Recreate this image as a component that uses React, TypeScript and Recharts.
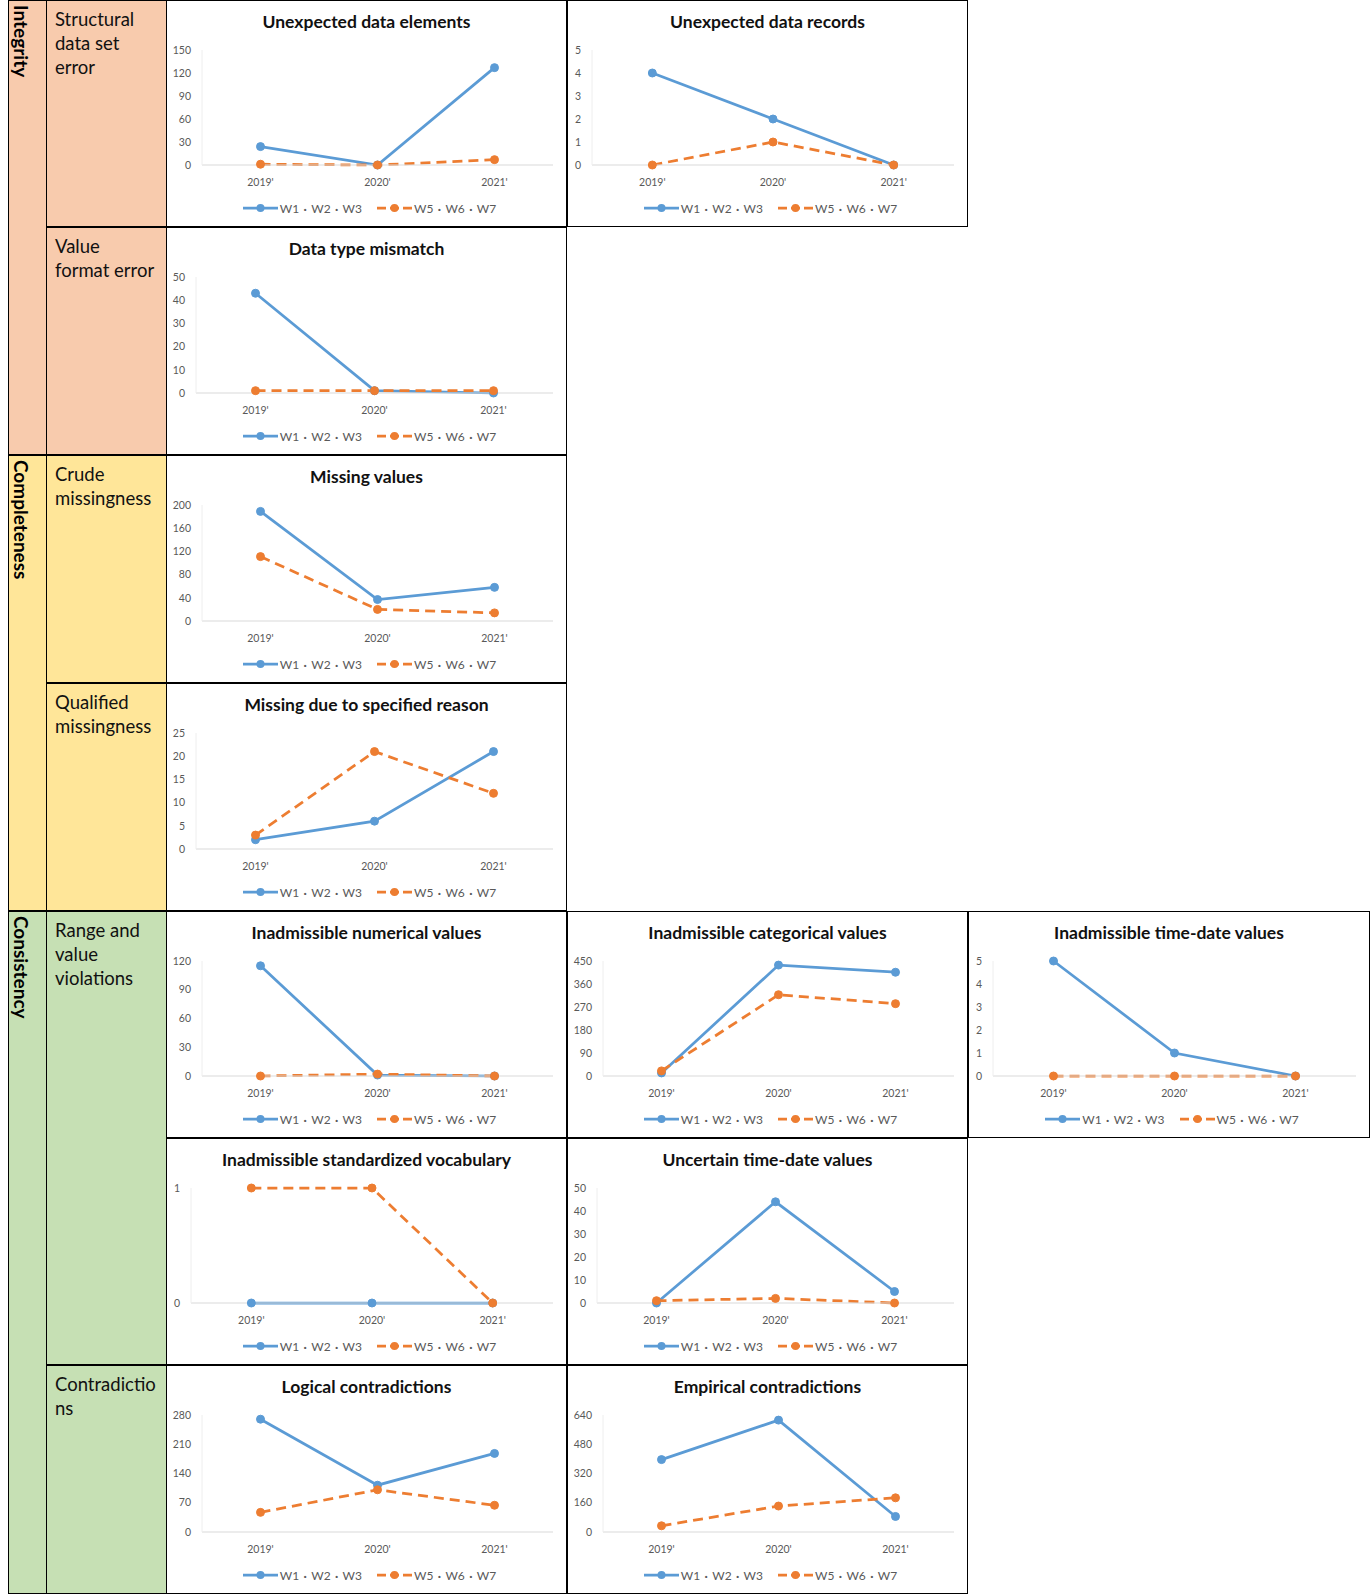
import React from 'react';
import { LineChart, Line, XAxis, YAxis, Legend } from 'recharts';

const years = ["2019'", "2020'", "2021'"];
const seriesNames = ['W1・W2・W3', 'W5・W6・W7'];

const elementsW1 = [24, 0, 127];
const elementsW5 = [1, 0, 7];
const elementsTicks = [0, 30, 60, 90, 120, 150];

const recordsW1 = [4, 2, 0];
const recordsW5 = [0, 1, 0];
const recordsTicks = [0, 1, 2, 3, 4, 5];

const mismatchW1 = [43, 1, 0];
const mismatchW5 = [1, 1, 1];
const mismatchTicks = [0, 10, 20, 30, 40, 50];

const missingW1 = [189, 37, 58];
const missingW5 = [111, 20, 14];
const missingTicks = [0, 40, 80, 120, 160, 200];

const reasonW1 = [2, 6, 21];
const reasonW5 = [3, 21, 12];
const reasonTicks = [0, 5, 10, 15, 20, 25];

const numericalW1 = [115, 1, 0];
const numericalW5 = [0, 2, 0];
const numericalTicks = [0, 30, 60, 90, 120];

const categoricalW1 = [12, 434, 406];
const categoricalW5 = [20, 318, 283];
const categoricalTicks = [0, 90, 180, 270, 360, 450];

const timeDateW1 = [5, 1, 0];
const timeDateW5 = [0, 0, 0];
const timeDateTicks = [0, 1, 2, 3, 4, 5];

const vocabW1 = [0, 0, 0];
const vocabW5 = [1, 1, 0];
const vocabTicks = [0, 1];

const uncertainW1 = [0, 44, 5];
const uncertainW5 = [1, 2, 0];
const uncertainTicks = [0, 10, 20, 30, 40, 50];

const logicalW1 = [270, 112, 188];
const logicalW5 = [47, 101, 64];
const logicalTicks = [0, 70, 140, 210, 280];

const empiricalW1 = [396, 612, 85];
const empiricalW5 = [34, 142, 187];
const empiricalTicks = [0, 160, 320, 480, 640];

// table grid
const rowEdges = [0, 227, 455, 683, 911, 1138, 1365, 1594];
const colEdges = [166, 567, 968, 1370];

const panels = [
  { title: 'Unexpected data elements', w1: elementsW1, w5: elementsW5, ticks: elementsTicks, row: 0, col: 0 },
  { title: 'Unexpected data records', w1: recordsW1, w5: recordsW5, ticks: recordsTicks, row: 0, col: 1 },
  { title: 'Data type mismatch', w1: mismatchW1, w5: mismatchW5, ticks: mismatchTicks, row: 1, col: 0 },
  { title: 'Missing values', w1: missingW1, w5: missingW5, ticks: missingTicks, row: 2, col: 0 },
  { title: 'Missing due to specified reason', w1: reasonW1, w5: reasonW5, ticks: reasonTicks, row: 3, col: 0 },
  { title: 'Inadmissible numerical values', w1: numericalW1, w5: numericalW5, ticks: numericalTicks, row: 4, col: 0 },
  { title: 'Inadmissible categorical values', w1: categoricalW1, w5: categoricalW5, ticks: categoricalTicks, row: 4, col: 1 },
  { title: 'Inadmissible time-date values', w1: timeDateW1, w5: timeDateW5, ticks: timeDateTicks, row: 4, col: 2 },
  { title: 'Inadmissible standardized vocabulary', w1: vocabW1, w5: vocabW5, ticks: vocabTicks, row: 5, col: 0 },
  { title: 'Uncertain time-date values', w1: uncertainW1, w5: uncertainW5, ticks: uncertainTicks, row: 5, col: 1 },
  { title: 'Logical contradictions', w1: logicalW1, w5: logicalW5, ticks: logicalTicks, row: 6, col: 0 },
  { title: 'Empirical contradictions', w1: empiricalW1, w5: empiricalW5, ticks: empiricalTicks, row: 6, col: 1 },
];

const dimensions = [
  { label: 'Integrity', from: 0, to: 2, fill: '#F8CBAD' },
  { label: 'Completeness', from: 2, to: 4, fill: '#FFE699' },
  { label: 'Consistency', from: 4, to: 7, fill: '#C6E0B4' },
];

const subDimensions = [
  { lines: ['Structural', 'data set', 'error'], from: 0, to: 1, fill: '#F8CBAD' },
  { lines: ['Value', 'format error'], from: 1, to: 2, fill: '#F8CBAD' },
  { lines: ['Crude', 'missingness'], from: 2, to: 3, fill: '#FFE699' },
  { lines: ['Qualified', 'missingness'], from: 3, to: 4, fill: '#FFE699' },
  { lines: ['Range and', 'value', 'violations'], from: 4, to: 6, fill: '#C6E0B4' },
  { lines: ['Contradictio', 'ns'], from: 6, to: 7, fill: '#C6E0B4' },
];

const BLUE = '#5B9BD5';
const ORANGE = '#ED7D31';
const FONT = 'Lato, "Noto Sans CJK KR", sans-serif';

const renderLegend = (props: any) => {
  const payload = props.payload || [];
  return (
    <div style={{ display: 'flex', justifyContent: 'center', alignItems: 'center', height: 20, gap: 15, fontSize: 12, color: '#595959', fontFamily: FONT }}>
      {payload.map((entry: any) => {
        const dashed = entry.payload && entry.payload.strokeDasharray;
        const parts = String(entry.value).split('・');
        return (
          <div key={entry.value} style={{ display: 'flex', alignItems: 'center' }}>
            <svg width={35} height={10}>
              <line x1={0} y1={5} x2={35} y2={5} stroke={entry.color} strokeWidth={2.75} strokeDasharray={dashed ? '9 4' : undefined} />
              <circle cx={17.5} cy={5} r={4} fill={entry.color} />
            </svg>
            <span style={{ marginLeft: 2, whiteSpace: 'nowrap' }}>
              {parts.map((part, i) => (
                <React.Fragment key={part}>
                  {i > 0 && <span style={{ display: 'inline-block', width: 12, textAlign: 'center', fontWeight: 700 }}>·</span>}
                  {part}
                </React.Fragment>
              ))}
            </span>
          </div>
        );
      })}
    </div>
  );
};

function Panel({ p }: any) {
  const data = years.map((year, i) => ({ year, w1: p.w1[i], w5: p.w5[i] }));
  const top = rowEdges[p.row];
  const h = rowEdges[p.row + 1] - top;
  const left = colEdges[p.col];
  const w = colEdges[p.col + 1] - left;
  const digits = String(p.ticks[p.ticks.length - 1]).length;
  const yWidth = [0, 24, 29, 35][digits];
  const marginRight = 13;
  const plotW = w - 2 - marginRight - yWidth;
  const pad = plotW / 6;
  const tick = { fontSize: 10.5, fill: '#595959', fontFamily: FONT };
  return (
    <div style={{ position: 'absolute', left, top, width: w, height: h, boxSizing: 'border-box', border: '1px solid #000', background: '#fff' }}>
      <div style={{ position: 'absolute', top: 11, left: 0, right: 0, textAlign: 'center', fontWeight: 700, fontSize: 17.5, lineHeight: '20px', color: '#111' }}>
        {p.title}
      </div>
      <LineChart width={w - 2} height={h - 2} data={data} margin={{ top: 49, right: marginRight, bottom: 11, left: 0 }}>
        <XAxis
          dataKey="year"
          interval={0}
          padding={{ left: pad, right: pad }}
          height={30}
          tickLine={false}
          tickSize={0}
          tickMargin={14}
          axisLine={{ stroke: '#d9d9d9' }}
          tick={tick}
        />
        <YAxis
          domain={[0, p.ticks[p.ticks.length - 1]]}
          ticks={p.ticks}
          interval={0}
          width={yWidth}
          tickLine={false}
          tickSize={0}
          tickMargin={11}
          axisLine={{ stroke: '#eeeeee' }}
          tick={tick}
        />
        <Legend
          verticalAlign="bottom"
          content={renderLegend}
          wrapperStyle={{ bottom: 8, left: 3, width: w - 2 }}
        />
        <Line
          type="linear"
          dataKey="w1"
          name={seriesNames[0]}
          stroke={BLUE}
          strokeWidth={2.75}
          dot={{ r: 4, fill: BLUE, stroke: BLUE, strokeWidth: 1 }}
          isAnimationActive={false}
        />
        <Line
          type="linear"
          dataKey="w5"
          name={seriesNames[1]}
          stroke={ORANGE}
          strokeWidth={2.75}
          strokeDasharray="10 6"
          dot={{ r: 4, fill: ORANGE, stroke: ORANGE, strokeWidth: 1, strokeDasharray: '' }}
          isAnimationActive={false}
        />
      </LineChart>
    </div>
  );
}

export default function App() {
  return (
    <div style={{ position: 'absolute', left: 0, top: 0, width: 1371, height: 1596, background: '#fff', fontFamily: FONT, color: '#000' }}>
      {dimensions.map((d) => (
        <div
          key={d.label}
          style={{
            position: 'absolute',
            left: 8,
            top: rowEdges[d.from],
            width: 39,
            height: rowEdges[d.to] - rowEdges[d.from],
            boxSizing: 'border-box',
            border: '1px solid #000',
            background: d.fill,
          }}
        >
          <div style={{ position: 'absolute', left: 2, top: 4, writingMode: 'vertical-rl', fontWeight: 700, fontSize: 19, lineHeight: '20px' }}>
            {d.label}
          </div>
        </div>
      ))}
      {subDimensions.map((s) => (
        <div
          key={s.lines.join(' ')}
          style={{
            position: 'absolute',
            left: 46,
            top: rowEdges[s.from],
            width: 121,
            height: rowEdges[s.to] - rowEdges[s.from],
            boxSizing: 'border-box',
            border: '1px solid #000',
            background: s.fill,
            padding: '6px 0 0 8px',
            fontSize: 18.5,
            lineHeight: '24px',
            color: '#111',
          }}
        >
          {s.lines.map((l) => (
            <div key={l}>{l}</div>
          ))}
        </div>
      ))}
      {panels.map((p) => (
        <Panel key={p.title} p={p} />
      ))}
    </div>
  );
}
